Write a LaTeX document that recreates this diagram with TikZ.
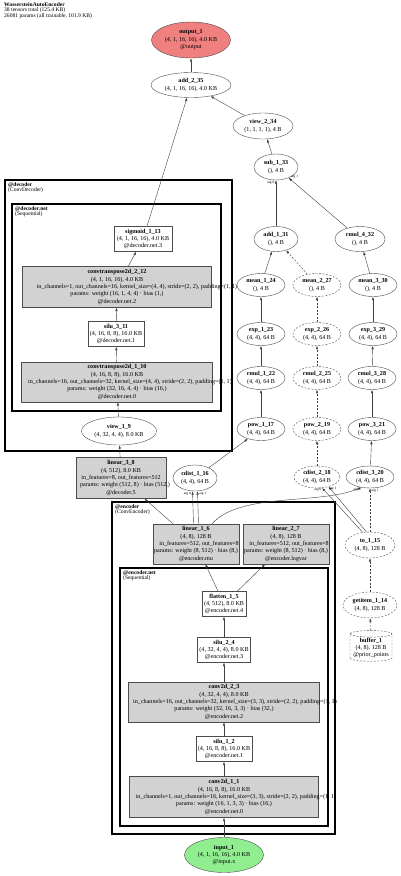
\documentclass[tikz,border=0pt]{standalone}
\usepackage{fontspec}
\setmainfont{Liberation Serif}
\usetikzlibrary{shapes.geometric, arrows.meta}
\definecolor{outred}{RGB}{240,128,128}
\definecolor{ingreen}{RGB}{144,238,144}
% a line that runs past the box it sits in
\newcommand{\spill}[2][0pt]{\makebox[0pt]{\hspace*{#1}#2}}
\begin{document}
\begin{tikzpicture}[x=1pt, y=-1pt, font=\fontsize{6.1}{7.4}\selectfont,
          >={Latex[length=3.5pt,width=2.4pt]},
          op/.style={ellipse, draw=black!70, line width=0.4pt, inner sep=0pt, align=center,
                     minimum width=48, minimum height=23},
          dsh/.style={dash pattern=on 2pt off 1.5pt},
          opd/.style={op, dsh},
          mod/.style={rectangle, draw=black!70, line width=0.4pt, inner sep=1pt, align=center,
                      minimum height=25},
          modp/.style={mod, fill=gray!35},
          grp/.style={draw=black, line width=1.8pt},
          subgrp/.style={draw=black, line width=1.2pt},
          grplab/.style={anchor=north west, inner sep=0pt, align=left, font=\fontsize{5.6}{5.6}\selectfont},
          argl/.style={inner sep=0.5pt, font=\fontsize{3.5}{3.5}\selectfont},
          wire/.style={->, draw=black!75, line width=0.4pt}]
        \useasboundingbox (0,0) rectangle (400,876);
        % title
        \node[grplab, anchor=north west] (title) at (4,2)
          {\textbf{WassersteinAutoEncoder}\\38 tensors total (125.4 KB)\\26081 params (all trainable, 101.9 KB)};
        % clusters
        \draw[grp] (5,180) rectangle (232,451);
        \node[grplab] (declab) at (8,182) {\textbf{@decoder}\\(ConvDecoder)};
        \draw[subgrp] (12,204) rectangle (221,411);
        \node[grplab] (decnetlab) at (15,206) {\textbf{@decoder.net}\\(Sequential)};
        \draw[grp] (112,502) rectangle (335,834);
        \node[grplab] (enclab) at (115,504) {\textbf{@encoder}\\(ConvEncoder)};
        \draw[subgrp] (120,568) rectangle (328,826);
        \node[grplab] (encnetlab) at (123,570) {\textbf{@encoder.net}\\(Sequential)};
        % output side
        \node[op, fill=outred, minimum width=79, minimum height=36] (out1) at (191,40)
          {\textbf{output\_1}\\(4, 1, 16, 16), 4.0 KB\\@output};
        \node[op, minimum width=80, minimum height=25] (add235) at (191,85)
          {\textbf{add\_2\_35}\\(4, 1, 16, 16), 4.0 KB};
        \node[op, minimum width=60, minimum height=26] (view234) at (263,126)
          {\textbf{view\_2\_34}\\(1, 1, 1, 1), 4 B};
        \node[op, minimum width=44, minimum height=26] (sub133) at (276,167)
          {\textbf{sub\_1\_33}\\(), 4 B};
        \node[op, minimum width=44, minimum height=25] (add131) at (276,239)
          {\textbf{add\_1\_31}\\(), 4 B};
        \node[op, minimum width=50, minimum height=25] (rmul432) at (360,239)
          {\textbf{rmul\_4\_32}\\(), 4 B};
        % loss columns
        \node[op] (mean124) at (261,285) {\textbf{mean\_1\_24}\\(), 4 B};
        \node[opd] (mean227) at (317,285) {\textbf{mean\_2\_27}\\(), 4 B};
        \node[op] (mean330) at (373,285) {\textbf{mean\_3\_30}\\(), 4 B};
        \node[op] (exp123) at (261,334) {\textbf{exp\_1\_23}\\(4, 4), 64 B};
        \node[opd] (exp226) at (317,334) {\textbf{exp\_2\_26}\\(4, 4), 64 B};
        \node[op] (exp329) at (373,334) {\textbf{exp\_3\_29}\\(4, 4), 64 B};
        \node[op] (rmul122) at (261,378) {\textbf{rmul\_1\_22}\\(4, 4), 64 B};
        \node[opd] (rmul225) at (317,378) {\textbf{rmul\_2\_25}\\(4, 4), 64 B};
        \node[op] (rmul328) at (372,378) {\textbf{rmul\_3\_28}\\(4, 4), 64 B};
        \node[op] (pow117) at (261,429) {\textbf{pow\_1\_17}\\(4, 4), 64 B};
        \node[opd] (pow219) at (317,429) {\textbf{pow\_2\_19}\\(4, 4), 64 B};
        \node[op] (pow321) at (372,429) {\textbf{pow\_3\_21}\\(4, 4), 64 B};
        \node[op, minimum width=44, minimum height=26] (cd116) at (195,478) {\textbf{cdist\_1\_16}\\(4, 4), 64 B};
        \node[opd, minimum width=46, minimum height=22] (cd218) at (317,477) {\textbf{cdist\_2\_18}\\(4, 4), 64 B};
        \node[op, minimum width=48, minimum height=22] (cd320) at (370,477) {\textbf{cdist\_3\_20}\\(4, 4), 64 B};
        % prior points
        \node[opd, minimum width=50, minimum height=26] (to115) at (370,545) {\textbf{to\_1\_15}\\(4, 8), 128 B};
        \node[opd, minimum width=54, minimum height=26] (gi114) at (370,605) {\textbf{getitem\_1\_14}\\(4, 8), 128 B};
        \node[cylinder, shape border rotate=90, aspect=0.18, draw=black!70, line width=0.4pt, dsh,
              inner sep=0.5pt, align=center, minimum width=42, minimum height=30] (buf1) at (371,648)
          {\textbf{buffer\_1}\\(4, 8), 128 B\\@prior\_points};
        % decoder
        \node[mod, minimum width=58] (sig113) at (143,239)
          {\textbf{sigmoid\_1\_13}\\(4, 1, 16, 16), 4.0 KB\\@decoder.net.3};
        \node[modp, minimum width=189, minimum height=41] (ct212) at (117,287)
          {\textbf{convtranspose2d\_2\_12}\\(4, 1, 16, 16), 4.0 KB\\
           \spill[40pt]{in\_channels=1, out\_channels=16, kernel\_size=(4, 4), stride=(2, 2), padding=(1, 1)}\\
           params: weight (16, 1, 4, 4) · bias (1,)\\@decoder.net.2};
        \node[mod, minimum width=56] (silu311) at (116,334)
          {\textbf{silu\_3\_11}\\(4, 16, 8, 8), 16.0 KB\\@decoder.net.1};
        \node[modp, minimum width=191, minimum height=40] (ct110) at (117,382)
          {\textbf{convtranspose2d\_1\_10}\\(4, 16, 8, 8), 16.0 KB\\
           \spill[26pt]{in\_channels=16, out\_channels=32, kernel\_size=(4, 4), stride=(2, 2), padding=(1, 1)}\\
           params: weight (32, 16, 4, 4) · bias (16,)\\@decoder.net.0};
        \node[op, minimum width=75, minimum height=28] (view19) at (119,431)
          {\textbf{view\_1\_9}\\(4, 32, 4, 4), 8.0 KB};
        \node[modp, minimum width=90, minimum height=41] (lin38) at (121,478)
          {\textbf{linear\_3\_8}\\(4, 512), 8.0 KB\\in\_features=8, out\_features=512\\
           \spill[8pt]{params: weight (512, 8) · bias (512,)}\\@decoder.5};
        % encoder
        \node[modp, minimum width=83, minimum height=40] (lin16) at (196,544)
          {\textbf{linear\_1\_6}\\(4, 8), 128 B\\\spill[6pt]{in\_features=512, out\_features=8}\\
           params: weight (8, 512) · bias (8,)\\@encoder.mu};
        \node[modp, minimum width=82, minimum height=40] (lin27) at (286,544)
          {\textbf{linear\_2\_7}\\(4, 8), 128 B\\\spill[6pt]{in\_features=512, out\_features=8}\\
           params: weight (8, 512) · bias (8,)\\@encoder.logvar};
        \node[mod, minimum width=44] (flat15) at (224,604)
          {\textbf{flatten\_1\_5}\\(4, 512), 8.0 KB\\@encoder.net.4};
        \node[mod, minimum width=53] (silu24) at (224,650)
          {\textbf{silu\_2\_4}\\(4, 32, 4, 4), 8.0 KB\\@encoder.net.3};
        \node[modp, minimum width=191, minimum height=40] (c2d23) at (224,702)
          {\textbf{conv2d\_2\_3}\\(4, 32, 4, 4), 8.0 KB\\
           \spill[22pt]{in\_channels=16, out\_channels=32, kernel\_size=(3, 3), stride=(2, 2), padding=(1, 1)}\\
           params: weight (32, 16, 3, 3) · bias (32,)\\@encoder.net.2};
        \node[mod, minimum width=56] (silu12) at (224,749)
          {\textbf{silu\_1\_2}\\(4, 16, 8, 8), 16.0 KB\\@encoder.net.1};
        \node[modp, minimum width=189, minimum height=41] (c2d11) at (224,797)
          {\textbf{conv2d\_1\_1}\\(4, 16, 8, 8), 16.0 KB\\
           \spill[24pt]{in\_channels=1, out\_channels=16, kernel\_size=(3, 3), stride=(2, 2), padding=(1, 1)}\\
           params: weight (16, 1, 3, 3) · bias (16,)\\@encoder.net.0};
        \node[op, fill=ingreen, minimum width=79, minimum height=35] (in1) at (224,855)
          {\textbf{input\_1}\\(4, 1, 16, 16), 4.0 KB\\@input.x};
        % encoder edges
        \draw[wire] (in1) -- (c2d11);
        \draw[wire] (c2d11) -- (silu12);
        \draw[wire] (silu12) -- (c2d23);
        \draw[wire] (c2d23) -- (silu24);
        \draw[wire] (silu24) -- (flat15);
        \draw[wire] (flat15) -- (lin16);
        \draw[wire] (flat15) -- (lin27);
        % decoder edges
        \draw[wire] (lin16) -- (lin38);
        \draw[wire] (lin38) -- (view19);
        \draw[wire] (view19) -- (ct110);
        \draw[wire] (ct110) -- (silu311);
        \draw[wire] (silu311) -- (ct212);
        \draw[wire] (ct212) -- (sig113);
        \draw[wire] (sig113) -- (add235);
        \draw[wire] (add235) -- (out1);
        % distance terms
        \draw[wire] ([xshift=-2.5pt]lin16.north) -- ([xshift=-2.5pt]cd116.south);
        \draw[wire] ([xshift=2.5pt]lin16.north) -- ([xshift=2.5pt]cd116.south);
        \draw[wire] ([xshift=16pt]lin16.north) .. controls (240,492) and (320,505) .. (cd320.-130);
        \draw[wire, dsh] (buf1) -- (gi114);
        \draw[wire, dsh] (gi114) -- (to115);
        \draw[wire, dsh] (to115) -- (cd320);
        \draw[wire] (to115.120) -- (cd218.-65);
        \draw[wire] (to115.105) -- (cd218.-40);
        \draw[wire] (cd116) -- (pow117);
        \draw[wire, dsh] (cd218) -- (pow219);
        \draw[wire] (cd320) -- (pow321);
        \draw[wire] (pow117) -- (rmul122);
        \draw[wire, dsh] (pow219) -- (rmul225);
        \draw[wire] (pow321) -- (rmul328);
        \draw[wire] (rmul122) -- (exp123);
        \draw[wire, dsh] (rmul225) -- (exp226);
        \draw[wire] (rmul328) -- (exp329);
        \draw[wire] (exp123) -- (mean124);
        \draw[wire, dsh] (exp226) -- (mean227);
        \draw[wire] (exp329) -- (mean330);
        \draw[wire] (mean124) -- (add131);
        \draw[wire, dsh] (mean227) -- (add131);
        \draw[wire] (mean330) -- (rmul432);
        \draw[wire] (add131) -- (sub133);
        \draw[wire] (rmul432) -- (sub133);
        \draw[wire] (sub133) -- (view234);
        \draw[wire] (view234) -- (add235);
        % argument labels
        \node[argl, anchor=north east] (a0sub) at ([xshift=-1pt]sub133.south) {arg 0};
        \node[argl, anchor=west] (a1sub) at (sub133.-35) {arg 1};
        \node[argl, anchor=north east] (a0cd1) at ([xshift=-3.5pt]cd116.south) {arg 0};
        \node[argl, anchor=north west] (a1cd1) at ([xshift=3.5pt]cd116.south) {arg 1};
        \node[argl, anchor=north east] (a0cd2) at (cd218.-65) {arg 0};
        \node[argl, anchor=north west] (a1cd2) at (cd218.-40) {arg 1};
        \node[argl, anchor=north east] (a0cd3) at (cd320.-130) {arg 0};
        \node[argl, anchor=north west] (a1cd3) at ([xshift=1pt]cd320.south) {arg 1};
      \end{tikzpicture}
\end{document}
